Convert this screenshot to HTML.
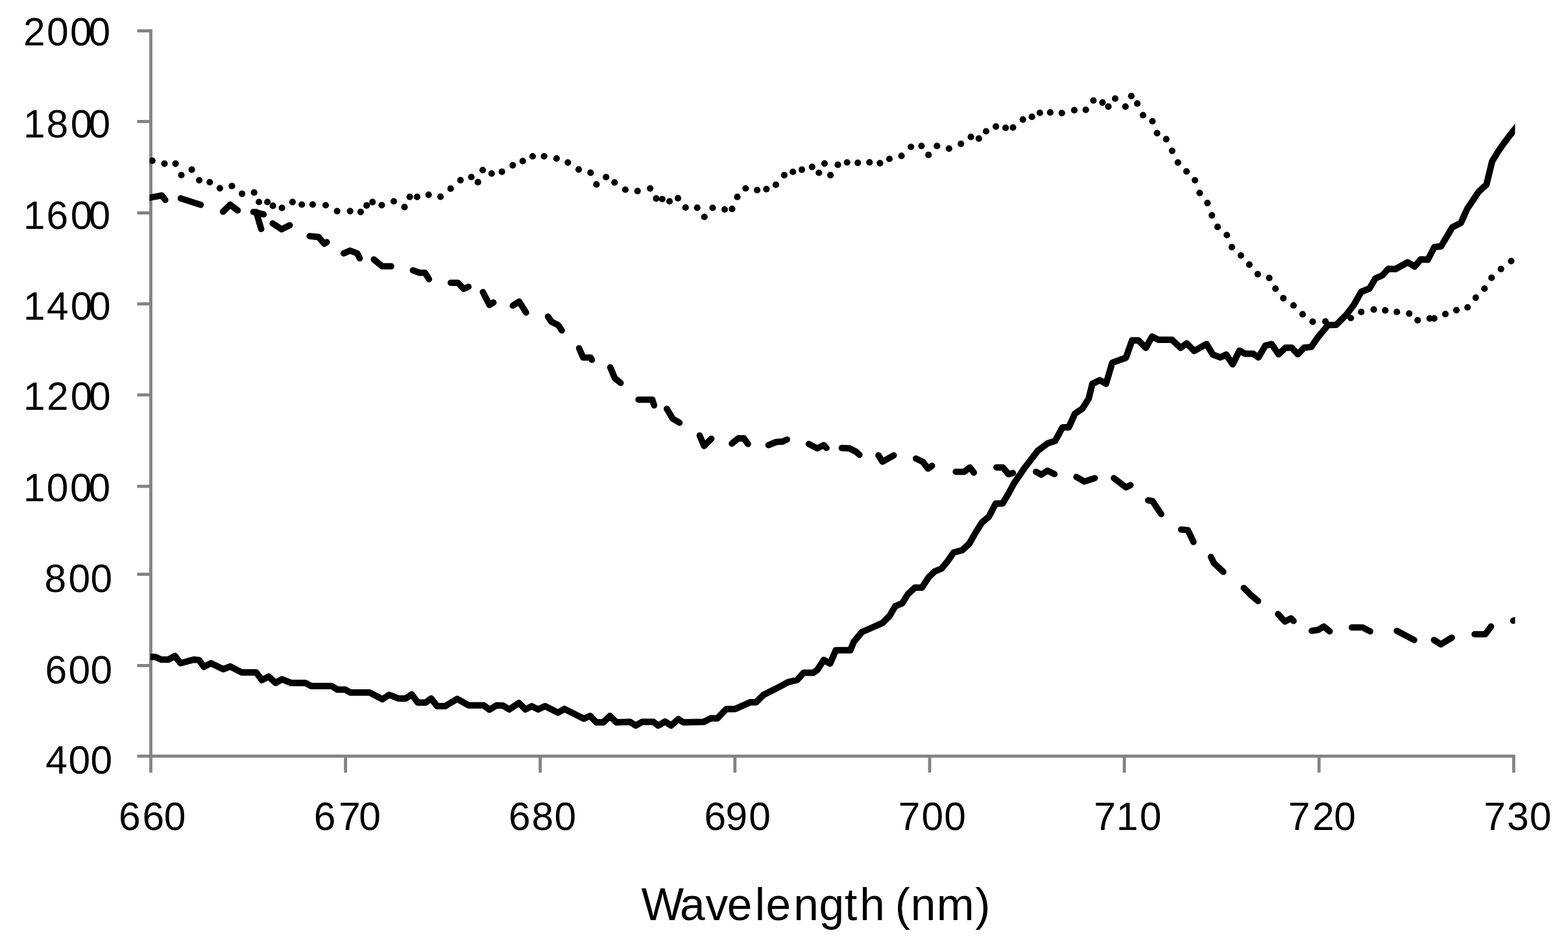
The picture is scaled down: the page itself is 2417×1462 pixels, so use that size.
<!DOCTYPE html>
<html><head><meta charset="utf-8"><title>Spectra</title>
<style>html,body{margin:0;padding:0;background:#fff;}svg{display:block;}text{font-family:"Liberation Sans",Arial,sans-serif;fill:#000;}</style></head><body>
<svg width="2417" height="1462" viewBox="0 0 2417 1462">
<defs><filter id="bl" filterUnits="userSpaceOnUse" x="0" y="0" width="2417" height="1462"><feGaussianBlur stdDeviation="0.60"/></filter></defs>
<rect width="2417" height="1462" fill="#fff"/>
<g filter="url(#bl)">
<g stroke="#828282" stroke-width="4.8" fill="none" stroke-linecap="butt">
<path d="M232.5 45.2 V1191.5"/>
<path d="M211.5 1166.2 H2335.7"/>
<path d="M211.5 47.6 H232.5"/>
<path d="M211.5 187.4 H232.5"/>
<path d="M211.5 328.4 H232.5"/>
<path d="M211.5 468.7 H232.5"/>
<path d="M211.5 609.0 H232.5"/>
<path d="M211.5 750.0 H232.5"/>
<path d="M211.5 885.6 H232.5"/>
<path d="M211.5 1026.4 H232.5"/>
<path d="M532.6 1166.2 V1191.5"/>
<path d="M832.7 1166.2 V1191.5"/>
<path d="M1132.8 1166.2 V1191.5"/>
<path d="M1433.0 1166.2 V1191.5"/>
<path d="M1733.1 1166.2 V1191.5"/>
<path d="M2033.2 1166.2 V1191.5"/>
<path d="M2333.3 1166.2 V1191.5"/>
</g>
<defs><clipPath id="pa"><rect x="230.5" y="0" width="2104.9" height="1462"/></clipPath></defs>
<g clip-path="url(#pa)" fill="none" stroke="#000" stroke-linejoin="round">
<polyline stroke-width="10" stroke-linecap="butt" points="231.8,1012.9 239.9,1013.3 248.5,1017.2 259.7,1017.2 269.6,1011.6 278.3,1022.8 289.5,1019.7 299.4,1017.2 306.9,1017.9 314.3,1028.4 324.9,1022.8 344.1,1032.1 354.7,1027.8 372.7,1037.1 395.0,1037.1 403.7,1048.9 414.2,1043.3 424.8,1053.2 434.7,1047.6 448.4,1053.2 470.7,1053.2 479.4,1057.9 511.2,1057.9 519.9,1063.5 532.3,1063.5 539.7,1067.9 569.5,1067.9 589.4,1078.4 599.9,1071.6 614.2,1077.2 625.4,1077.2 634.7,1071.0 644.0,1083.4 656.4,1083.4 664.5,1077.2 673.8,1089.0 686.2,1089.0 704.8,1077.8 722.2,1087.7 745.7,1087.7 754.4,1094.5 765.6,1087.7 775.5,1088.3 785.0,1094.1 799.9,1084.1 809.8,1094.1 819.7,1089.1 829.6,1094.1 840.2,1089.1 860.1,1099.0 870.0,1093.4 899.8,1108.3 909.7,1104.0 919.0,1113.9 930.2,1113.9 940.1,1104.0 950.0,1113.9 971.1,1113.3 979.8,1118.9 989.8,1113.3 1007.1,1113.3 1014.6,1118.9 1025.1,1112.7 1034.4,1118.9 1045.6,1109.0 1053.1,1113.9 1084.8,1113.3 1096.0,1107.7 1105.9,1107.7 1119.6,1093.4 1133.2,1093.4 1156.8,1082.9 1165.5,1082.9 1176.7,1071.7 1196.5,1061.8 1215.1,1051.8 1228.8,1048.7 1238.7,1037.6 1253.6,1037.6 1259.8,1033.2 1269.8,1017.7 1279.7,1023.3 1288.4,1002.8 1310.7,1002.8 1316.0,990.0 1328.5,974.8 1344.5,967.7 1360.5,960.6 1371.2,949.9 1380.0,934.8 1390.7,930.4 1399.6,916.1 1410.3,906.3 1421.0,906.3 1431.6,890.3 1440.5,881.4 1451.2,877.0 1460.1,866.3 1469.9,852.1 1483.2,848.5 1493.9,838.7 1504.6,820.1 1513.5,805.8 1524.2,796.9 1534.8,776.5 1545.5,776.5 1556.0,758.5 1563.2,745.1 1580.4,720.2 1599.6,695.3 1614.9,683.8 1626.4,680.0 1637.9,658.9 1647.5,658.9 1657.0,637.9 1668.5,630.2 1678.1,614.9 1683.8,591.9 1695.3,586.2 1704.9,591.9 1714.5,559.4 1735.5,551.7 1745.1,524.9 1754.7,524.9 1766.2,536.4 1775.8,519.1 1785.3,523.9 1806.4,523.9 1819.8,536.4 1829.4,529.7 1840.9,541.2 1859.7,530.7 1869.6,546.9 1880.8,551.2 1890.1,546.9 1900.1,561.8 1910.6,540.7 1919.3,545.6 1931.7,545.6 1939.8,551.2 1950.3,533.2 1960.2,530.7 1970.8,546.3 1981.4,536.3 1991.3,536.3 2000.6,546.3 2009.9,536.3 2021.1,535.1 2031.0,520.8 2047.1,501.3 2059.7,501.0 2075.7,485.0 2087.0,470.0 2098.3,450.0 2111.0,445.0 2120.0,429.5 2131.0,424.5 2140.0,414.5 2151.0,415.0 2170.0,404.5 2180.5,411.0 2190.0,400.0 2201.0,400.5 2211.0,381.0 2221.2,380.0 2238.7,350.5 2251.8,343.9 2261.7,322.0 2279.2,295.7 2291.3,284.8 2300.0,249.0 2309.0,234.0 2317.4,222.0 2328.3,207.5 2340.0,193.0"/>
<polyline stroke-width="9.8" stroke-linecap="round" points="226.0,305.9 249.3,301.4 254.8,308.3"/>
<polyline stroke-width="9.8" stroke-linecap="round" points="278.6,305.9 309.4,315.8"/>
<polyline stroke-width="9.8" stroke-linecap="round" points="343.8,326.5 354.7,315.6 366.4,324.5"/>
<polyline stroke-width="9.8" stroke-linecap="round" points="390.6,326.8 406.4,330.6"/>
<polyline stroke-width="9.8" stroke-linecap="round" points="395.0,327.0 402.6,353.1"/>
<polyline stroke-width="9.8" stroke-linecap="round" points="420.3,344.5 434.1,353.6 446.6,347.4"/>
<polyline stroke-width="9.8" stroke-linecap="round" points="477.2,364.2 490.9,365.5 499.9,375.9 503.7,373.4"/>
<polyline stroke-width="9.8" stroke-linecap="round" points="529.7,390.8 539.6,386.5 550.8,390.8 554.5,398.3"/>
<polyline stroke-width="9.8" stroke-linecap="round" points="576.3,400.1 589.3,410.7 602.9,410.7"/>
<polyline stroke-width="9.8" stroke-linecap="round" points="636.5,416.9 646.4,420.6 655.1,420.6 661.3,430.5"/>
<polyline stroke-width="9.8" stroke-linecap="round" points="694.8,436.1 706.0,436.1 714.7,445.4 722.1,442.3"/>
<polyline stroke-width="9.8" stroke-linecap="round" points="744.4,450.4 754.4,470.3 760.6,466.5"/>
<polyline stroke-width="9.8" stroke-linecap="round" points="790.5,471.3 800.2,465.1 810.9,482.0"/>
<polyline stroke-width="9.8" stroke-linecap="round" points="844.7,488.2 850.0,496.2 860.7,501.6 866.0,509.6"/>
<polyline stroke-width="9.8" stroke-linecap="round" points="892.7,537.1 898.9,551.4 910.5,551.4 912.3,554.9"/>
<polyline stroke-width="9.8" stroke-linecap="round" points="940.7,566.5 947.8,583.4 956.7,590.5"/>
<polyline stroke-width="9.8" stroke-linecap="round" points="984.3,616.3 1005.6,616.3 1008.3,625.2"/>
<polyline stroke-width="9.8" stroke-linecap="round" points="1027.9,630.5 1036.8,645.6 1047.4,651.9"/>
<polyline stroke-width="9.8" stroke-linecap="round" points="1078.5,671.6 1085.3,687.8 1096.5,676.6"/>
<polyline stroke-width="9.8" stroke-linecap="round" points="1128.1,684.1 1138.0,676.0 1146.7,676.0 1152.9,684.7"/>
<polyline stroke-width="9.8" stroke-linecap="round" points="1184.6,686.5 1196.4,681.6 1206.3,681.0 1213.1,677.9"/>
<polyline stroke-width="9.8" stroke-linecap="round" points="1246.7,684.7 1259.7,691.5 1269.6,686.5 1274.0,690.9"/>
<polyline stroke-width="9.8" stroke-linecap="round" points="1297.5,690.9 1309.3,691.5 1319.3,696.5 1324.8,701.4"/>
<polyline stroke-width="9.8" stroke-linecap="round" points="1354.1,702.2 1360.3,712.1 1377.7,702.2"/>
<polyline stroke-width="9.8" stroke-linecap="round" points="1411.8,707.2 1423.0,712.7 1430.5,722.7 1436.7,718.3"/>
<polyline stroke-width="9.8" stroke-linecap="round" points="1473.3,727.6 1486.3,727.6 1495.0,720.8 1501.2,728.9"/>
<polyline stroke-width="9.8" stroke-linecap="round" points="1536.0,720.8 1545.9,720.8 1554.6,731.4 1561.4,729.5"/>
<polyline stroke-width="9.8" stroke-linecap="round" points="1596.9,727.6 1604.9,732.1 1614.7,725.9 1625.4,731.2"/>
<polyline stroke-width="9.8" stroke-linecap="round" points="1659.2,735.6 1671.6,742.7 1687.6,737.4"/>
<polyline stroke-width="9.8" stroke-linecap="round" points="1717.0,737.4 1735.6,751.6 1742.7,748.1"/>
<polyline stroke-width="9.8" stroke-linecap="round" points="1769.8,771.7 1776.5,772.7 1789.9,792.8"/>
<polyline stroke-width="9.8" stroke-linecap="round" points="1820.6,816.7 1831.1,817.7 1839.7,835.9"/>
<polyline stroke-width="9.8" stroke-linecap="round" points="1866.6,858.9 1871.3,868.5 1885.7,881.9"/>
<polyline stroke-width="9.8" stroke-linecap="round" points="1917.3,906.8 1926.9,916.4 1939.3,926.9"/>
<polyline stroke-width="9.8" stroke-linecap="round" points="1970.0,947.0 1980.5,958.5 1990.1,953.7 1994.0,957.5"/>
<polyline stroke-width="9.8" stroke-linecap="round" points="2022.0,972.9 2031.7,971.4 2040.6,966.2 2049.6,973.6"/>
<polyline stroke-width="9.8" stroke-linecap="round" points="2083.8,967.7 2100.2,967.7 2112.1,973.6"/>
<polyline stroke-width="9.8" stroke-linecap="round" points="2153.1,972.9 2179.9,987.0"/>
<polyline stroke-width="9.8" stroke-linecap="round" points="2210.4,987.0 2220.9,993.7 2238.0,983.3"/>
<polyline stroke-width="9.8" stroke-linecap="round" points="2273.0,978.1 2289.4,978.1 2298.3,966.2"/>
<polyline stroke-width="9.8" stroke-linecap="round" points="2332.6,957.2 2345.0,954.0"/>
</g>
<g fill="#000" clip-path="url(#pa)">
<circle cx="234.8" cy="247.9" r="5.1"/>
<circle cx="253.5" cy="252.3" r="5.1"/>
<circle cx="270.6" cy="252.3" r="5.1"/>
<circle cx="279.5" cy="270.0" r="5.1"/>
<circle cx="295.6" cy="261.6" r="5.1"/>
<circle cx="307.1" cy="278.0" r="5.1"/>
<circle cx="323.3" cy="281.0" r="5.1"/>
<circle cx="338.9" cy="290.3" r="5.1"/>
<circle cx="357.5" cy="286.9" r="5.1"/>
<circle cx="373.1" cy="298.8" r="5.1"/>
<circle cx="391.7" cy="296.9" r="5.1"/>
<circle cx="399.2" cy="311.5" r="5.1"/>
<circle cx="412.2" cy="311.5" r="5.1"/>
<circle cx="420.7" cy="317.4" r="5.1"/>
<circle cx="434.6" cy="320.6" r="5.1"/>
<circle cx="450.9" cy="311.6" r="5.1"/>
<circle cx="465.2" cy="315.5" r="5.1"/>
<circle cx="482.0" cy="315.3" r="5.1"/>
<circle cx="502.0" cy="316.5" r="5.1"/>
<circle cx="519.6" cy="325.6" r="5.1"/>
<circle cx="539.7" cy="325.6" r="5.1"/>
<circle cx="555.9" cy="326.8" r="5.1"/>
<circle cx="565.2" cy="316.9" r="5.1"/>
<circle cx="574.2" cy="311.7" r="5.1"/>
<circle cx="588.4" cy="316.3" r="5.1"/>
<circle cx="607.0" cy="310.5" r="5.1"/>
<circle cx="623.5" cy="319.4" r="5.1"/>
<circle cx="631.6" cy="303.6" r="5.1"/>
<circle cx="643.0" cy="303.6" r="5.1"/>
<circle cx="660.7" cy="300.3" r="5.1"/>
<circle cx="679.0" cy="303.3" r="5.1"/>
<circle cx="694.6" cy="290.9" r="5.1"/>
<circle cx="709.8" cy="277.9" r="5.1"/>
<circle cx="726.5" cy="273.0" r="5.1"/>
<circle cx="736.7" cy="280.9" r="5.1"/>
<circle cx="744.1" cy="262.3" r="5.1"/>
<circle cx="757.8" cy="267.6" r="5.1"/>
<circle cx="773.7" cy="264.8" r="5.1"/>
<circle cx="790.4" cy="254.9" r="5.1"/>
<circle cx="805.8" cy="248.4" r="5.1"/>
<circle cx="821.0" cy="241.0" r="5.1"/>
<circle cx="838.7" cy="241.0" r="5.1"/>
<circle cx="857.9" cy="244.3" r="5.1"/>
<circle cx="875.3" cy="250.6" r="5.1"/>
<circle cx="892.0" cy="261.3" r="5.1"/>
<circle cx="910.3" cy="266.4" r="5.1"/>
<circle cx="919.4" cy="284.4" r="5.1"/>
<circle cx="934.2" cy="273.2" r="5.1"/>
<circle cx="947.3" cy="281.3" r="5.1"/>
<circle cx="963.9" cy="292.5" r="5.1"/>
<circle cx="982.7" cy="294.6" r="5.1"/>
<circle cx="1002.2" cy="290.6" r="5.1"/>
<circle cx="1011.5" cy="306.1" r="5.1"/>
<circle cx="1020.8" cy="307.0" r="5.1"/>
<circle cx="1032.0" cy="310.5" r="5.1"/>
<circle cx="1045.0" cy="305.7" r="5.1"/>
<circle cx="1056.8" cy="320.0" r="5.1"/>
<circle cx="1074.7" cy="320.3" r="5.1"/>
<circle cx="1085.8" cy="334.5" r="5.1"/>
<circle cx="1098.5" cy="320.5" r="5.1"/>
<circle cx="1117.1" cy="323.0" r="5.1"/>
<circle cx="1128.5" cy="322.1" r="5.1"/>
<circle cx="1136.5" cy="303.7" r="5.1"/>
<circle cx="1149.4" cy="290.5" r="5.1"/>
<circle cx="1167.1" cy="293.2" r="5.1"/>
<circle cx="1181.4" cy="291.7" r="5.1"/>
<circle cx="1195.9" cy="284.9" r="5.1"/>
<circle cx="1208.9" cy="270.2" r="5.1"/>
<circle cx="1222.2" cy="265.0" r="5.1"/>
<circle cx="1236.0" cy="261.7" r="5.1"/>
<circle cx="1251.8" cy="257.3" r="5.1"/>
<circle cx="1262.3" cy="266.5" r="5.1"/>
<circle cx="1271.0" cy="252.2" r="5.1"/>
<circle cx="1280.1" cy="270.2" r="5.1"/>
<circle cx="1291.5" cy="254.2" r="5.1"/>
<circle cx="1305.7" cy="250.5" r="5.1"/>
<circle cx="1322.3" cy="251.1" r="5.1"/>
<circle cx="1340.3" cy="250.4" r="5.1"/>
<circle cx="1356.5" cy="251.6" r="5.1"/>
<circle cx="1371.0" cy="245.0" r="5.1"/>
<circle cx="1389.6" cy="240.4" r="5.1"/>
<circle cx="1404.2" cy="226.5" r="5.1"/>
<circle cx="1420.4" cy="225.1" r="5.1"/>
<circle cx="1431.2" cy="238.8" r="5.1"/>
<circle cx="1444.3" cy="225.2" r="5.1"/>
<circle cx="1462.9" cy="229.2" r="5.1"/>
<circle cx="1481.2" cy="221.8" r="5.1"/>
<circle cx="1496.6" cy="211.2" r="5.1"/>
<circle cx="1508.8" cy="213.7" r="5.1"/>
<circle cx="1520.0" cy="202.5" r="5.1"/>
<circle cx="1535.1" cy="195.1" r="5.1"/>
<circle cx="1550.1" cy="197.2" r="5.1"/>
<circle cx="1561.5" cy="196.6" r="5.1"/>
<circle cx="1576.7" cy="184.3" r="5.1"/>
<circle cx="1590.7" cy="180.2" r="5.1"/>
<circle cx="1602.9" cy="174.0" r="5.1"/>
<circle cx="1618.9" cy="173.4" r="5.1"/>
<circle cx="1636.8" cy="174.3" r="5.1"/>
<circle cx="1656.0" cy="169.9" r="5.1"/>
<circle cx="1673.7" cy="169.3" r="5.1"/>
<circle cx="1685.4" cy="155.0" r="5.1"/>
<circle cx="1699.4" cy="158.1" r="5.1"/>
<circle cx="1708.5" cy="164.3" r="5.1"/>
<circle cx="1719.0" cy="152.0" r="5.1"/>
<circle cx="1734.8" cy="164.3" r="5.1"/>
<circle cx="1743.9" cy="148.2" r="5.1"/>
<circle cx="1753.1" cy="159.7" r="5.1"/>
<circle cx="1761.9" cy="177.7" r="5.1"/>
<circle cx="1776.4" cy="187.0" r="5.1"/>
<circle cx="1783.6" cy="205.3" r="5.1"/>
<circle cx="1797.7" cy="214.7" r="5.1"/>
<circle cx="1806.8" cy="232.6" r="5.1"/>
<circle cx="1815.7" cy="250.6" r="5.1"/>
<circle cx="1828.9" cy="264.3" r="5.1"/>
<circle cx="1841.9" cy="278.0" r="5.1"/>
<circle cx="1849.3" cy="297.6" r="5.1"/>
<circle cx="1861.2" cy="313.1" r="5.1"/>
<circle cx="1868.0" cy="332.1" r="5.1"/>
<circle cx="1876.9" cy="349.9" r="5.1"/>
<circle cx="1891.1" cy="362.5" r="5.1"/>
<circle cx="1898.8" cy="381.2" r="5.1"/>
<circle cx="1912.8" cy="394.0" r="5.1"/>
<circle cx="1925.8" cy="408.2" r="5.1"/>
<circle cx="1938.8" cy="422.8" r="5.1"/>
<circle cx="1956.5" cy="428.7" r="5.1"/>
<circle cx="1966.1" cy="445.2" r="5.1"/>
<circle cx="1978.2" cy="459.8" r="5.1"/>
<circle cx="1993.9" cy="471.0" r="5.1"/>
<circle cx="2007.9" cy="484.7" r="5.1"/>
<circle cx="2023.4" cy="496.2" r="5.1"/>
<circle cx="2043.1" cy="495.8" r="5.1"/>
<circle cx="2082.2" cy="490.5" r="5.1"/>
<circle cx="2098.3" cy="481.2" r="5.1"/>
<circle cx="2117.6" cy="477.4" r="5.1"/>
<circle cx="2135.3" cy="478.7" r="5.1"/>
<circle cx="2153.2" cy="481.2" r="5.1"/>
<circle cx="2172.2" cy="483.6" r="5.1"/>
<circle cx="2185.2" cy="493.9" r="5.1"/>
<circle cx="2203.8" cy="491.1" r="5.1"/>
<circle cx="2210.7" cy="491.1" r="5.1"/>
<circle cx="2228.0" cy="484.3" r="5.1"/>
<circle cx="2245.0" cy="478.3" r="5.1"/>
<circle cx="2262.2" cy="474.0" r="5.1"/>
<circle cx="2274.8" cy="459.1" r="5.1"/>
<circle cx="2288.2" cy="445.2" r="5.1"/>
<circle cx="2299.2" cy="428.4" r="5.1"/>
<circle cx="2313.7" cy="414.8" r="5.1"/>
<circle cx="2329.4" cy="402.6" r="5.1"/>
</g>
<g>
<text x="36.0 72.0 108.0 136.5" y="70.0" font-size="60.5">2000</text>
<text x="36.0 71.5 108.7 136.5" y="211.7" font-size="60.5">1800</text>
<text x="36.0 71.5 108.7 136.5" y="352.9" font-size="60.5">1600</text>
<text x="36.0 72.1 108.7 137.0" y="493.4" font-size="60.5">1400</text>
<text x="36.0 72.0 108.7 137.0" y="631.5" font-size="60.5">1200</text>
<text x="36.0 71.8 108.0 136.5" y="773.3" font-size="60.5">1000</text>
<text x="68.6 105.6 139.5" y="913.3" font-size="60.5">800</text>
<text x="69.4 105.6 139.5" y="1054.1" font-size="60.5">600</text>
<text x="70.2 105.6 139.5" y="1193.3" font-size="60.5">400</text>
<text x="183.1 219.6 252.7" y="1280.4" font-size="60.5">660</text>
<text x="483.7 521.9 553.3" y="1280.4" font-size="60.5">670</text>
<text x="784.0 819.6 854.5" y="1280.4" font-size="60.5">680</text>
<text x="1085.4 1118.4 1154.2" y="1280.4" font-size="60.5">690</text>
<text x="1384.8 1420.6 1455.3" y="1280.4" font-size="60.5">700</text>
<text x="1686.3 1720.8 1756.8" y="1280.4" font-size="60.5">710</text>
<text x="1985.7 2023.0 2056.2" y="1280.4" font-size="60.5">720</text>
<text x="2287.2 2322.9 2357.7" y="1280.4" font-size="60.5">730</text>
<text x="988.6 1048.0 1087.6 1120.7 1163.8 1180.4 1223.2 1262.5 1302.0 1325.3 1360.0 1379.8 1403.7 1443.7 1503.3" y="1419.3" font-size="69.5">Wavelength (nm)</text>
</g>
</g>
</svg></body></html>
